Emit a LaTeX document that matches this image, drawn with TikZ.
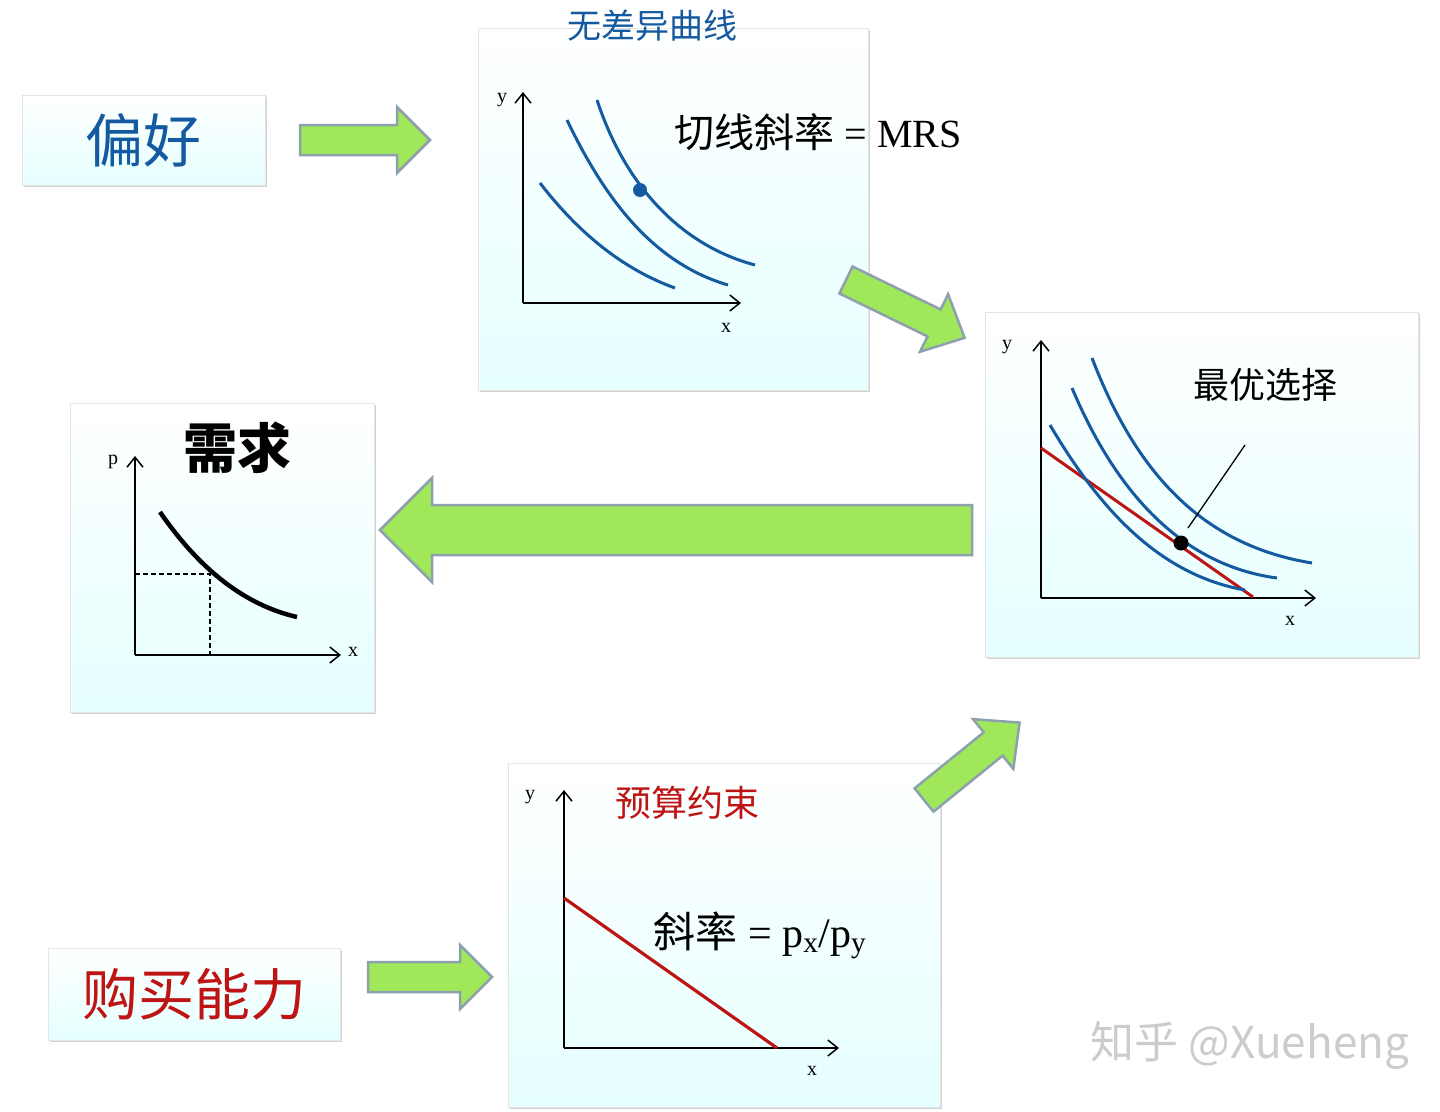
\documentclass[tikz,border=0pt]{standalone}
\usepackage{fontspec}
\setmainfont{Liberation Serif}
\newfontfamily\cjk{Noto Sans CJK SC}
\usetikzlibrary{shadows,arrows.meta}
\definecolor{cblue}{RGB}{20,90,160}
\definecolor{cred}{RGB}{190,20,20}
\definecolor{agreen}{RGB}{160,232,90}
\definecolor{aedge}{RGB}{140,160,175}
\tikzset{
 panel/.style={draw=white!80!gray,line width=0.8pt,top color=white,bottom color=cyan!10,drop shadow={shadow xshift=2pt,shadow yshift=-2pt,opacity=0.35}},
 ax/.style={line width=1.5pt,-{Straight Barb[length=10pt,width=16pt]}},
 icurve/.style={cblue,line width=3pt},
 blk/.style={fill=agreen,draw=aedge,line width=2.5pt},
 lbl/.style={font=\fontsize{20}{20}\selectfont},
}
\newcommand{\blockarrow}[7]{% x y angle length bodyhalf headhalf headlen
 \draw[blk,shift={(#1,#2)},rotate=#3] (0,-#5) -- ({#4-#7},-#5) -- ({#4-#7},-#6) -- (#4,0) -- ({#4-#7},#6) -- ({#4-#7},#5) -- (0,#5) -- cycle;}
\begin{document}
\begin{tikzpicture}[x=1pt,y=-1pt]
\useasboundingbox[fill=white] (0,0) rectangle (1440,1111);
% panels
\fill[panel] (22,95) rectangle (265,185);
\fill[panel] (478,28) rectangle (868,390);
\fill[panel] (985,312) rectangle (1418,657);
\fill[panel] (70,403) rectangle (374,712);
\fill[panel] (508,763) rectangle (940,1107);
\fill[panel] (48,948) rectangle (340,1040);
% arrows
\blockarrow{300}{140}{0}{130}{15}{33}{33}
\blockarrow{846}{280}{-26}{132}{15}{32}{34}
\blockarrow{972}{530}{180}{592}{25}{52}{52}
\blockarrow{368}{977}{0}{124}{15}{32}{32}
\blockarrow{924}{800}{39}{123}{15}{32}{34}
% texts
\node[cblue,font=\cjk\fontsize{58}{58}\selectfont] (pref) at (143,140) {偏好};
\node[cred,font=\cjk\fontsize{56}{56}\selectfont] (buy) at (194,994) {购买能力};
\node[cblue,font=\cjk\fontsize{34}{34}\selectfont] (t1) at (652,26) {无差异曲线};
\node[font=\fontsize{40}{40}\selectfont] (mrs) at (818,132) {{\cjk 切线斜率} = MRS};
\node[font=\cjk\fontsize{36}{36}\selectfont] (opt) at (1265,385) {最优选择};
\node[font=\cjk\bfseries\fontsize{54}{54}\selectfont] (dem) at (237,448) {需求};
\node[cred,font=\cjk\fontsize{36}{36}\selectfont] (bud) at (687,803) {预算约束};
\node[font=\fontsize{42}{42}\selectfont] (slope) at (760,935) {{\cjk 斜率} = p$_{\mathrm{x}}$/p$_{\mathrm{y}}$};
\node[gray!40,font=\cjk\fontsize{44}{44}\selectfont] (wm) at (1250,1045) {知乎 @Xueheng};
% panel 1
\coordinate (o1) at (523,303);
\draw[ax] (o1) -- (523,92);
\draw[ax] (o1) -- (741,303);
\node[lbl] (y1) at (502,100) {y};
\node[lbl] (x1) at (726,328) {x};
\draw[icurve] (540,183) .. controls (580,235) and (625,270) .. (675,288);
\draw[icurve] (567,120) .. controls (610,210) and (660,265) .. (728,285);
\draw[icurve] (597,100) .. controls (625,185) and (680,245) .. (755,265);
\fill[cblue] (640,190) circle (7pt);
% panel 3
\coordinate (o3) at (1041,598);
\draw[ax] (o3) -- (1041,340);
\draw[ax] (o3) -- (1316,598);
\node[lbl] (y3) at (1007,347) {y};
\node[lbl] (x3) at (1290,621) {x};
\draw[cred,line width=3pt] (1041,448) -- (1253,597);
\draw[icurve] (1050,425) .. controls (1100,510) and (1160,575) .. (1245,590);
\draw[icurve] (1072,388) .. controls (1115,490) and (1180,565) .. (1277,578);
\draw[icurve] (1092,358) .. controls (1135,470) and (1200,545) .. (1312,563);
\fill (1181,543) circle (7.5pt);
\draw[line width=1.3pt] (1188,528) -- (1245,445);
% demand
\coordinate (o4) at (135,655);
\draw[ax] (o4) -- (135,456);
\draw[ax] (o4) -- (341,655);
\node[lbl] (p4) at (113,462) {p};
\node[lbl] (x4) at (353,652) {x};
\draw[line width=4.5pt] (160,512) .. controls (200,570) and (245,605) .. (297,617);
\draw[dash pattern=on 5pt off 3pt,line width=1.3pt] (135,574) -- (210,574) -- (210,655);
% budget
\coordinate (o5) at (564,1048);
\draw[ax] (o5) -- (564,790);
\draw[ax] (o5) -- (839,1048);
\node[lbl] (y5) at (530,797) {y};
\node[lbl] (x5) at (812,1071) {x};
\draw[cred,line width=3.2pt] (564,898) -- (777,1048);
\end{tikzpicture}
\end{document}
